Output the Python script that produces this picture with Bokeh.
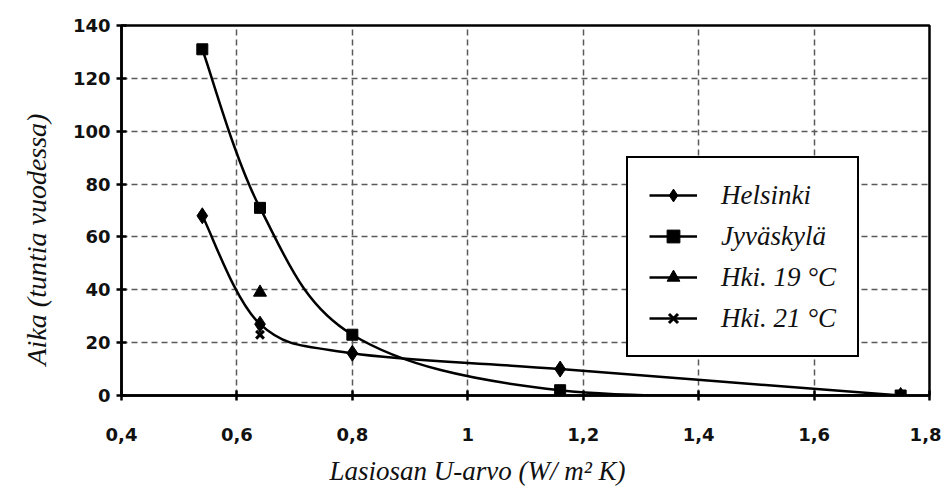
from bokeh.plotting import figure
from bokeh.models import (Range1d, FixedTicker, Legend, LegendItem, ColumnDataSource,
                          Title)
from bokeh.embed import file_html
from bokeh.resources import INLINE
import numpy as np

# ---- data ----
u_values = [0.54, 0.64, 0.80, 1.16, 1.75]
helsinki = [68, 27, 16, 10, 0]
jyvaskyla = [131, 71, 23, 2, 0]
hki19_x = [0.64]
hki19_y = [39]
hki21_x = [0.64]
hki21_y = [23]

x_ticks = [0.4, 0.6, 0.8, 1.0, 1.2, 1.4, 1.6, 1.8]
x_tick_labels = ["0,4", "0,6", "0,8", "1", "1,2", "1,4", "1,6", "1,8"]
y_ticks = [0, 20, 40, 60, 80, 100, 120, 140]

x_label = "Lasiosan U-arvo (W/ m² K)"
y_label = "Aika (tuntia vuodessa)"
series_names = ["Helsinki", "Jyväskylä", "Hki. 19 °C", "Hki. 21 °C"]

SERIF = "Liberation Serif"
SANS = "DejaVu Sans"


def smooth_bezier(xs, ys):
    """Catmull-Rom style cubic Bezier control points from data points."""
    xs = np.asarray(xs, float)
    ys = np.asarray(ys, float)
    n = len(xs)
    px = np.concatenate([[xs[0]], xs, [xs[-1]]])
    py = np.concatenate([[ys[0]], ys, [ys[-1]]])
    d = dict(x0=[], y0=[], x1=[], y1=[], cx0=[], cy0=[], cx1=[], cy1=[])
    for i in range(n - 1):
        j = i + 1
        d["x0"].append(px[j]); d["y0"].append(py[j])
        d["x1"].append(px[j + 1]); d["y1"].append(py[j + 1])
        d["cx0"].append(px[j] + (px[j + 1] - px[j - 1]) / 6)
        d["cy0"].append(py[j] + (py[j + 1] - py[j - 1]) / 6)
        d["cx1"].append(px[j + 1] - (px[j + 2] - px[j]) / 6)
        d["cy1"].append(py[j + 1] - (py[j + 2] - py[j]) / 6)
    return ColumnDataSource(d)


p = figure(width=941, height=503, output_backend="svg", toolbar_location=None,
           x_range=Range1d(0.4, 1.8), y_range=Range1d(0, 140),
           min_border_left=121, min_border_right=12, min_border_top=25,
           min_border_bottom=108)

p.background_fill_color = "white"
p.border_fill_color = "white"
p.outline_line_color = "black"
p.outline_line_width = 2.5
p.outline_line_alpha = 1.0

# grid
p.xgrid.ticker = FixedTicker(ticks=x_ticks)
p.ygrid.ticker = FixedTicker(ticks=y_ticks)
for g in (p.xgrid, p.ygrid):
    g.grid_line_color = "#5a5a5a"
    g.grid_line_width = 1.5
    g.grid_line_dash = "6 4"

# axes
p.xaxis.ticker = FixedTicker(ticks=x_ticks)
p.xaxis.major_label_overrides = {t: l for t, l in zip(x_ticks, x_tick_labels)}
p.yaxis.ticker = FixedTicker(ticks=y_ticks)
for ax in (p.xaxis, p.yaxis):
    ax.axis_line_color = "black"
    ax.axis_line_width = 2.5
    ax.major_tick_line_color = "black"
    ax.major_tick_line_width = 2.5
    ax.major_tick_in = 5
    ax.major_tick_out = 5
    ax.minor_tick_line_color = None
    ax.major_label_text_font = SANS
    ax.major_label_text_font_style = "bold"
    ax.major_label_text_font_size = "18px"
    ax.major_label_text_color = "#111111"
p.xaxis.major_label_standoff = 27
p.yaxis.major_label_standoff = 6

# axis titles, placed off-centre as in the original
p.add_layout(Title(text=x_label, align="left", offset=208, standoff=21,
                   vertical_align="bottom",
                   text_font=SERIF, text_font_style="italic",
                   text_font_size="27px", text_color="#111111"), "below")
p.add_layout(Title(text=y_label, align="left", offset=30, standoff=31,
                   vertical_align="top",
                   text_font=SERIF, text_font_style="italic",
                   text_font_size="28px", text_color="#111111"), "left")

# curves
src_h = smooth_bezier(u_values, helsinki)
src_j = smooth_bezier(u_values, jyvaskyla)
p.bezier(x0="x0", y0="y0", x1="x1", y1="y1", cx0="cx0", cy0="cy0",
         cx1="cx1", cy1="cy1", source=src_h, line_color="black", line_width=2.5)
p.bezier(x0="x0", y0="y0", x1="x1", y1="y1", cx0="cx0", cy0="cy0",
         cx1="cx1", cy1="cy1", source=src_j, line_color="black", line_width=2.5)

# markers
s_h = p.scatter(u_values, helsinki, marker="diamond", size=16, color="black")
s_j = p.scatter(u_values, jyvaskyla, marker="square", size=11, color="black")
s_19 = p.scatter(hki19_x, hki19_y, marker="triangle", size=13, color="black")
s_21 = p.scatter(hki21_x, hki21_y, marker="x", size=11, line_color="black",
                 line_width=3)

# single-point line renderers (draw nothing) used for legend line samples
l_h = p.line(u_values[:1], helsinki[:1], line_color="black", line_width=2.5)
l_j = p.line(u_values[:1], jyvaskyla[:1], line_color="black", line_width=2.5)
l_19 = p.line(hki19_x, hki19_y, line_color="black", line_width=2.5)
l_21 = p.line(hki21_x, hki21_y, line_color="black", line_width=2.5)

legend = Legend(items=[
    LegendItem(label=series_names[0], renderers=[l_h, s_h]),
    LegendItem(label=series_names[1], renderers=[l_j, s_j]),
    LegendItem(label=series_names[2], renderers=[l_19, s_19]),
    LegendItem(label=series_names[3], renderers=[l_21, s_21]),
], location=(505, 38))
legend.label_text_font = SERIF
legend.label_text_font_style = "italic"
legend.label_text_font_size = "27px"
legend.label_text_color = "#111111"
legend.glyph_width = 48
legend.glyph_height = 32
legend.label_height = 32
legend.label_standoff = 24
legend.spacing = 9
legend.padding = 21
legend.margin = 0
legend.border_line_color = "black"
legend.border_line_width = 2
legend.border_line_alpha = 1.0
legend.background_fill_color = "white"
legend.background_fill_alpha = 1.0
p.add_layout(legend, "center")

open("out.html", "w").write(file_html(p, INLINE))
